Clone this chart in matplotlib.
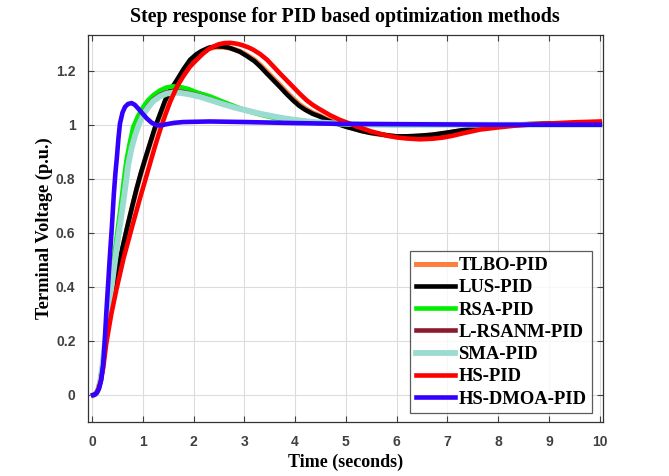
import numpy as np
import matplotlib.pyplot as plt

# values
t_lus = [0.03, 0.08, 0.12, 0.16, 0.2, 0.27, 0.35, 0.445, 0.57, 0.71, 0.8, 0.88, 0.96, 1.04,
         1.14, 1.24, 1.34, 1.44, 1.55, 1.67, 1.8, 1.93, 2.05, 2.15, 2.3, 2.45, 2.58, 2.7, 2.8,
         2.91, 3.05, 3.2, 3.32, 3.44, 3.57, 3.7, 3.83, 3.96, 4.08, 4.2, 4.35, 4.49, 4.62, 4.75,
         4.88, 5.01, 5.15, 5.3, 5.48, 5.67, 5.85, 6.0, 6.16, 6.33, 6.5, 6.7, 6.85, 7.0, 7.3,
         7.64, 8.0, 8.3, 8.6, 8.95, 9.5, 10.0]
y_lus = [0, 0.005, 0.02, 0.05, 0.1, 0.2, 0.31, 0.41, 0.52, 0.635, 0.705, 0.765, 0.82, 0.87,
         0.93, 0.99, 1.04, 1.09, 1.13, 1.165, 1.205, 1.24, 1.26, 1.272, 1.285, 1.29, 1.289, 1.285,
         1.278, 1.27, 1.254, 1.235, 1.214, 1.19, 1.165, 1.14, 1.114, 1.09, 1.07, 1.055, 1.04,
         1.03, 1.018, 1.008, 1.0, 0.992, 0.985, 0.977, 0.97, 0.965, 0.96, 0.957, 0.957, 0.958,
         0.96, 0.963, 0.967, 0.971, 0.98, 0.99, 0.996, 0.999, 1.002, 1.004, 1.005, 1.005]
y_tlbo = [0, 0.005, 0.02, 0.05, 0.1, 0.2, 0.31, 0.41, 0.518, 0.632, 0.702, 0.762, 0.816, 0.866,
          0.926, 0.985, 1.035, 1.085, 1.125, 1.16, 1.2, 1.235, 1.256, 1.268, 1.282, 1.287,
          1.287, 1.284, 1.279, 1.272, 1.258, 1.24, 1.22, 1.197, 1.172, 1.147, 1.121, 1.097,
          1.076, 1.06, 1.044, 1.033, 1.021, 1.011, 1.002, 0.994, 0.986, 0.978, 0.97, 0.964,
          0.959, 0.956, 0.956, 0.957, 0.959, 0.962, 0.966, 0.97, 0.979, 0.989, 0.995, 0.999,
          1.002, 1.004, 1.005, 1.005]

t_hs = [0.03, 0.08, 0.12, 0.17, 0.22, 0.28, 0.38, 0.48, 0.62, 0.8, 0.94, 1.04, 1.14, 1.24,
        1.34, 1.44, 1.54, 1.67, 1.8, 1.93, 2.06, 2.18, 2.3, 2.4, 2.5, 2.61, 2.72, 2.84, 2.95,
        3.07, 3.18, 3.32, 3.45, 3.57, 3.7, 3.83, 3.96, 4.1, 4.23, 4.35, 4.46, 4.58, 4.69, 4.88,
        5.08, 5.2, 5.35, 5.5, 5.67, 5.83, 6.0, 6.2, 6.46, 6.7, 6.9, 7.1, 7.3, 7.47, 7.64, 8.0,
        8.3, 8.6, 8.95, 9.5, 10.0]
y_hs = [0, 0.005, 0.02, 0.05, 0.1, 0.19, 0.3, 0.39, 0.505, 0.63, 0.725, 0.79, 0.855, 0.92,
        0.98, 1.035, 1.085, 1.14, 1.18, 1.215, 1.24, 1.262, 1.28, 1.29, 1.298, 1.302, 1.303, 1.3,
        1.295, 1.287, 1.277, 1.26, 1.24, 1.216, 1.19, 1.165, 1.14, 1.113, 1.09, 1.073, 1.06,
        1.047, 1.035, 1.018, 1.004, 0.994, 0.985, 0.975, 0.967, 0.959, 0.953, 0.949, 0.946,
        0.948, 0.952, 0.959, 0.968, 0.975, 0.982, 0.99, 0.996, 1.0, 1.004, 1.009, 1.012]

t_rsa = [0.03, 0.08, 0.12, 0.16, 0.2, 0.26, 0.32, 0.4, 0.49, 0.58, 0.63, 0.68, 0.74, 0.81,
         0.9, 1.01, 1.1, 1.21, 1.34, 1.47, 1.6, 1.73, 1.9, 2.06, 2.2, 2.32, 2.45, 2.58, 2.8,
         3.01, 3.3, 3.57, 3.8, 4.03, 4.35, 4.69, 5.3, 6.0, 7.0, 8.0, 9.0, 10.0]
y_rsa = [0, 0.005, 0.02, 0.05, 0.1, 0.2, 0.32, 0.46, 0.59, 0.72, 0.8, 0.87, 0.93, 0.99,
         1.03, 1.066, 1.09, 1.11, 1.127, 1.138, 1.142, 1.14, 1.132, 1.12, 1.112, 1.105, 1.095,
         1.085, 1.069, 1.054, 1.038, 1.026, 1.019, 1.014, 1.008, 1.004, 1.0, 0.999, 1.0, 1.0,
         1.0, 1.0]

t_sma = [0.03, 0.08, 0.12, 0.16, 0.2, 0.26, 0.33, 0.42, 0.52, 0.62, 0.67, 0.71, 0.78, 0.85,
         0.93, 1.01, 1.1, 1.21, 1.34, 1.47, 1.6, 1.73, 1.93, 2.13, 2.35, 2.58, 2.8, 3.01, 3.3,
         3.57, 3.8, 4.03, 4.35, 4.69, 5.3, 6.0, 7.0, 8.0, 9.0, 10.0]
y_sma = [0, 0.005, 0.02, 0.05, 0.1, 0.2, 0.32, 0.45, 0.59, 0.72, 0.79, 0.85, 0.915, 0.962,
         1.005, 1.037, 1.063, 1.088, 1.105, 1.115, 1.119, 1.118, 1.112, 1.103, 1.09, 1.076,
         1.064, 1.054, 1.041, 1.031, 1.023, 1.017, 1.01, 1.006, 1.001, 1.0, 1.0, 1.0, 1.0, 1.0]
y_lrsanm = [0, 0.005, 0.02, 0.05, 0.1, 0.2, 0.32, 0.45, 0.592, 0.724, 0.795, 0.855, 0.92,
            0.967, 1.01, 1.042, 1.068, 1.093, 1.11, 1.12, 1.124, 1.123, 1.116, 1.106, 1.092,
            1.078, 1.065, 1.055, 1.041, 1.031, 1.023, 1.017, 1.01, 1.006, 1.001, 1.0, 1.0, 1.0,
            1.0, 1.0]

t_dmoa = [0.02, 0.06, 0.1, 0.14, 0.18, 0.22, 0.25, 0.28, 0.31, 0.35, 0.39, 0.43, 0.46, 0.49,
          0.52, 0.55, 0.6, 0.65, 0.71, 0.78, 0.84, 0.91, 1.0, 1.08, 1.17, 1.27, 1.37, 1.47, 1.62,
          1.8, 2.32, 3.0, 4.0, 5.0, 6.0, 7.0, 8.0, 9.0, 10.0]
y_dmoa = [0, 0.002, 0.01, 0.025, 0.055, 0.115, 0.2, 0.3, 0.39, 0.51, 0.62, 0.745, 0.82, 0.88,
          0.95, 1.004, 1.045, 1.066, 1.077, 1.08, 1.074, 1.06, 1.04, 1.023, 1.008, 0.998, 0.998,
          1.002, 1.007, 1.01, 1.012, 1.01, 1.006, 1.003, 1.002, 1.001, 1.0, 1.0, 1.0]

xticks = [0, 1, 2, 3, 4, 5, 6, 7, 8, 9, 10]
yticks = [0, 0.2, 0.4, 0.6, 0.8, 1.0, 1.2]
ytick_labels = ['0', '0.2', '0.4', '0.6', '0.8', '1', '1.2']

fig = plt.figure(figsize=(6.69, 4.76), dpi=100)
ax = fig.add_axes([0.1315, 0.1134, 0.7695, 0.8131])

lw = 3.3
ax.plot(t_lus, y_tlbo, color='#ff7f3f', lw=lw + 0.3, label='TLBO-PID')
ax.plot(t_lus, y_lus, color='black', lw=lw, label='LUS-PID')
ax.plot(t_rsa, y_rsa, color='#00ee00', lw=lw, label='RSA-PID')
ax.plot(t_sma, y_lrsanm, color='#8b1a2e', lw=lw, label='L-RSANM-PID')
ax.plot(t_sma, y_sma, color='#9adcd0', lw=4.2, label='SMA-PID')
ax.plot(t_hs, y_hs, color='#ff0000', lw=lw, label='HS-PID')
ax.plot(t_dmoa, y_dmoa, color='#3300ff', lw=lw, label='HS-DMOA-PID')

ax.set_xlim(-0.08, 10.06)
ax.set_ylim(-0.1, 1.332)
ax.set_xticks(xticks)
ax.set_yticks(yticks)
ax.set_yticklabels(ytick_labels)
ax.grid(True, color='#dcdcdc', lw=0.8)
ax.tick_params(direction='in', top=True, right=True, length=4, width=0.8, colors='#404040',
               labelsize=10, pad=9)
for lab in ax.get_xticklabels() + ax.get_yticklabels():
    lab.set_fontfamily('Liberation Sans')
    lab.set_fontweight('bold')
for sp in ax.spines.values():
    sp.set_color('#333333')
    sp.set_linewidth(0.9)

serif = {'family': 'Liberation Serif', 'weight': 'bold'}
ax.set_title('Step response for PID based optimization methods', fontdict=dict(serif, size=14.4), pad=9)
ax.set_xlabel('Time (seconds)', fontdict=dict(serif, size=13), labelpad=4)
ax.set_ylabel('Terminal Voltage (p.u.)', fontdict=dict(serif, size=13.2), labelpad=2)

leg = ax.legend(loc='lower right', bbox_to_anchor=(0.979, 0.023), fancybox=False,
                prop={'family': 'Liberation Serif', 'weight': 'bold', 'size': 13.4},
                handlelength=2.1, labelspacing=0.28, borderpad=0.3, handletextpad=0.2,
                borderaxespad=0.0)
leg.get_frame().set_edgecolor('#333333')
leg.get_frame().set_linewidth(0.9)

fig.savefig('out.png', dpi=100)
